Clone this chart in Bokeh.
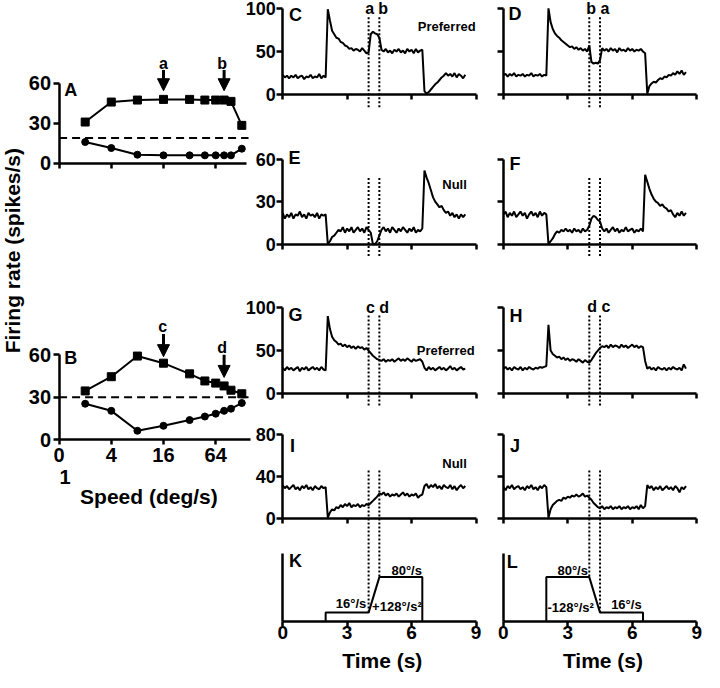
import math
from bokeh.plotting import figure
from bokeh.models import (Range1d, LinearAxis, LogAxis, LogScale, FixedTicker,
                          CustomJSTickFormatter, Label, Arrow, NormalHead)
from bokeh.embed import file_html
from bokeh.resources import INLINE

FONT = "Liberation Sans"

# ---------------------------------------------------------------- data
speed = [2, 4, 8, 16, 32, 48, 64, 80, 96, 128]
a_pref = [31, 46, 47.5, 48, 48, 47.5, 47.5, 47.5, 46.5, 28.5]
a_null = [16, 11.5, 6.5, 6, 6, 6, 6, 6, 6, 11]
a_spont = 19
b_pref = [34.5, 44.5, 59, 54, 46.5, 41.5, 40, 38, 35, 32.5]
b_null = [25.5, 20.5, 6.5, 10, 14, 16.5, 18.5, 20.5, 22, 26]
b_spont = 30
speed_ticks = [1, 4, 16, 64]
speed_tick_labels = ["0", "4", "16", "64"]
step_speeds = [16, 80]

time_s = [0.0, 0.1, 0.2, 0.3, 0.4, 0.5, 0.6, 0.7, 0.8, 0.9, 1.0, 1.1, 1.2, 1.3, 1.4,
          1.5, 1.6, 1.7, 1.8, 1.9, 2.0, 2.1, 2.2, 2.3, 2.4, 2.5, 2.6, 2.7, 2.8, 2.9,
          3.0, 3.1, 3.2, 3.3, 3.4, 3.5, 3.6, 3.7, 3.8, 3.9, 4.0, 4.1, 4.2, 4.3, 4.4,
          4.5, 4.6, 4.7, 4.8, 4.9, 5.0, 5.1, 5.2, 5.3, 5.4, 5.5, 5.6, 5.7, 5.8, 5.9,
          6.0, 6.1, 6.2, 6.3, 6.4, 6.5, 6.6, 6.7, 6.8, 6.9, 7.0, 7.1, 7.2, 7.3, 7.4,
          7.5, 7.6, 7.7, 7.8, 7.9, 8.0, 8.1, 8.2, 8.3, 8.4, 8.5]

C_rate = [23, 20, 22, 19, 22, 20, 23, 19, 21, 22, 18, 21, 20, 23, 19, 21, 20, 24, 19, 22, 20,
          99, 86, 74, 70, 66, 65, 61, 60, 57, 56, 53, 54, 51, 53, 52, 50, 54, 51, 48, 49,
          70, 73, 71, 70, 66, 52, 50, 53, 49, 51, 48, 52, 50, 53, 49, 51, 48, 53, 50, 52, 48, 53, 49, 51, 52,
          4, 1, 3, 6, 9, 12, 14, 17, 20, 22, 25, 22, 24, 21, 25, 20, 24, 22, 19, 23]
D_rate = [23, 24, 21, 24, 22, 25, 21, 23, 22, 24, 21, 23, 22, 25, 21, 23, 22, 24, 21, 23, 22,
          100, 84, 76, 71, 68, 66, 63, 61, 59, 57, 55, 56, 53, 55, 52, 54, 51, 53, 50, 57,
          38, 36, 37, 36, 40, 54, 51, 53, 50, 54, 51, 53, 49, 54, 51, 52, 50, 54, 51, 53, 50, 52, 51, 53, 50,
          48, 1, 10, 13, 15, 14, 17, 19, 18, 21, 20, 23, 22, 25, 23, 27, 24, 28, 23, 26]
E_rate = [22, 18, 21, 19, 22, 18, 21, 20, 23, 19, 21, 18, 22, 20, 21, 19, 22, 18, 21, 20, 21,
          0, 2, 5, 6, 8, 10, 9, 12, 8, 11, 9, 12, 8, 10, 12, 9, 11, 8, 12, 10,
          8, 0, 0, 2, 6, 10, 12, 9, 11, 8, 12, 10, 8, 11, 9, 12, 10, 8, 11, 9, 12, 8, 10, 9, 11,
          52, 47, 43, 38, 33, 30, 28, 26, 27, 24, 22, 23, 20, 22, 19, 21, 18, 21, 19, 21]
F_rate = [21, 23, 19, 22, 20, 23, 19, 21, 23, 20, 22, 18, 21, 23, 20, 22, 19, 23, 20, 22, 21,
          0, 2, 4, 7, 9, 8, 10, 9, 11, 9, 10, 8, 11, 9, 10, 8, 11, 9, 10, 13,
          18, 20, 19, 17, 16, 11, 9, 11, 8, 10, 12, 9, 11, 8, 10, 9, 12, 9, 10, 11, 8, 10, 9, 11, 9,
          49, 44, 39, 35, 32, 30, 29, 27, 28, 26, 25, 23, 24, 21, 19, 22, 20, 23, 20, 22]
G_rate = [30, 27, 31, 28, 30, 27, 29, 31, 26, 30, 28, 31, 27, 29, 31, 28, 30, 27, 31, 28, 27,
          90, 75, 66, 62, 60, 57, 58, 55, 57, 54, 56, 53, 55, 52, 55, 53, 54, 51, 53, 50,
          47, 44, 42, 40, 39, 38, 40, 37, 39, 38, 40, 37, 39, 41, 38, 40, 38, 41, 39, 37, 40, 38, 39, 40, 37,
          30, 27, 31, 28, 30, 27, 29, 31, 28, 30, 27, 29, 32, 28, 30, 27, 29, 31, 28, 29]
H_rate = [29, 31, 28, 30, 27, 31, 29, 28, 31, 27, 30, 28, 31, 29, 28, 30, 29, 31, 30, 31, 32,
          80, 50, 46, 44, 42, 43, 40, 42, 39, 41, 38, 40, 39, 37, 40, 38, 36, 39, 37, 36,
          39, 43, 47, 50, 53, 55, 54, 56, 53, 57, 54, 56, 55, 53, 57, 54, 56, 53, 55, 57, 54, 56, 53, 55, 54,
          38, 29, 31, 28, 30, 27, 31, 29, 28, 30, 27, 30, 28, 31, 29, 28, 30, 27, 34, 29]
I_rate = [32, 29, 31, 28, 30, 32, 28, 30, 27, 31, 29, 32, 28, 30, 27, 31, 29, 28, 31, 29, 30,
          1, 6, 9, 8, 11, 10, 13, 11, 14, 12, 15, 11, 13, 12, 14, 11, 13, 12, 14, 13,
          15, 17, 19, 21, 24, 23, 25, 22, 24, 21, 23, 22, 24, 21, 23, 25, 22, 24, 21, 23, 22, 24, 20, 22, 23,
          31, 33, 29, 32, 30, 33, 29, 31, 28, 32, 30, 29, 32, 28, 31, 27, 30, 32, 29, 31]
J_rate = [30, 27, 31, 29, 32, 28, 30, 31, 28, 30, 27, 31, 29, 32, 28, 30, 27, 31, 29, 32, 30,
          1, 9, 13, 15, 17, 18, 17, 20, 19, 21, 20, 22, 21, 23, 21, 22, 24, 21, 22, 20,
          18, 15, 13, 11, 10, 12, 9, 11, 10, 12, 9, 11, 10, 12, 9, 11, 10, 12, 9, 11, 10, 12, 9, 13, 10,
          12, 32, 29, 31, 27, 30, 28, 31, 27, 29, 31, 28, 30, 27, 31, 29, 25, 30, 28, 31]

profile_t = [2.0, 2.0, 4.0, 4.5, 6.5, 6.5]
K_speed = [0, 16, 16, 80, 80, 0]
L_speed = [0, 80, 80, 16, 16, 0]
change_times = [4.0, 4.5]
time_ticks = [0, 3, 6, 9]

# ---------------------------------------------------------------- layout (reference pixels)
W, H = 704, 672
REF_X = (1, 722)   # reference pixels covered by the frame, left -> right
REF_Y = (686, 1)   # bottom -> top


def rng(v0, v1, p0, p1, ref):
    k = (v1 - v0) / (p1 - p0)
    return Range1d(start=v0 + (ref[0] - p0) * k, end=v0 + (ref[1] - p0) * k)


def log_rng(v0, v1, p0, p1, ref):
    l0, l1 = math.log2(v0), math.log2(v1)
    k = (l1 - l0) / (p1 - p0)
    return Range1d(start=2 ** (l0 + (ref[0] - p0) * k), end=2 ** (l0 + (ref[1] - p0) * k))


COLS = {"tL": (290, 488), "tR": (516, 714)}
ROWS = {"rCD": (97, 9, 100, [0, 50, 100]),
        "rEF": (249.3, 162.7, 60, [0, 30, 60]),
        "rGH": (401.7, 314, 100, [0, 50, 100]),
        "rIJ": (529.3, 443.3, 80, [0, 40, 80]),
        "rKL": (634, 565, 122, [])}


def row_val(row, px):
    y0, ytop, vmax, _ = ROWS[row]
    return (y0 - px) / (y0 - ytop) * vmax


x_ranges = {k: rng(0, 9, a, b, REF_X) for k, (a, b) in COLS.items()}
x_ranges["spd"] = log_rng(1, 64, 61, 221.4, REF_X)
y_ranges = {k: rng(0, v[2], v[0], v[1], REF_Y) for k, v in ROWS.items()}
y_ranges["yA"] = rng(0, 60, 167, 85.5, REF_Y)
y_ranges["yB"] = rng(0, 60, 449, 362, REF_Y)

p = figure(width=W, height=H, output_backend="svg", toolbar_location=None,
           x_range=Range1d(*REF_X), y_range=Range1d(*REF_Y),
           x_axis_location=None, y_axis_location=None, min_border=0,
           outline_line_color=None, extra_x_ranges=x_ranges, extra_y_ranges=y_ranges,
           extra_x_scales={"spd": LogScale()})
p.grid.grid_line_color = None
p.background_fill_color = "white"
p.border_fill_color = "white"


def style_axis(ax, size, show, standoff, tick=6):
    ax.axis_line_width = 2.5
    ax.axis_line_color = "black"
    ax.major_tick_line_width = 2.5
    ax.major_tick_line_color = "black"
    ax.major_tick_in = 0
    ax.major_tick_out = tick
    ax.minor_tick_line_color = None
    ax.major_label_text_font = FONT
    ax.major_label_text_font_style = "bold"
    ax.major_label_text_font_size = f"{size}px"
    ax.major_label_text_color = "black" if show else None
    ax.major_label_standoff = standoff


def label(x, y, text, size, angle=0.0, xr="default", yr="default"):
    p.add_layout(Label(x=x, y=y, text=text, x_range_name=xr, y_range_name=yr,
                       text_font=FONT, text_font_style="bold", text_font_size=f"{size}px",
                       text_align="center", text_baseline="middle", angle=angle,
                       text_color="black"))


# ---------------------------------------------------------------- time-course panels
panels = [("C", "tL", "rCD", C_rate), ("D", "tR", "rCD", D_rate),
          ("E", "tL", "rEF", E_rate), ("F", "tR", "rEF", F_rate),
          ("G", "tL", "rGH", G_rate), ("H", "tR", "rGH", H_rate),
          ("I", "tL", "rIJ", I_rate), ("J", "tR", "rIJ", J_rate)]

for name, xr, yr, rate in panels:
    p.line(time_s, rate, x_range_name=xr, y_range_name=yr, line_width=2, color="black")

for xr, yr, show in [("tL", "rCD", True), ("tR", "rCD", False), ("tL", "rEF", True),
                     ("tR", "rEF", False), ("tL", "rGH", True), ("tR", "rGH", False),
                     ("tL", "rIJ", True), ("tR", "rIJ", False), ("tL", "rKL", False),
                     ("tR", "rKL", False)]:
    vmax, yticks = ROWS[yr][2], ROWS[yr][3]
    xa = LinearAxis(x_range_name=xr, y_range_name=yr, fixed_location=0, bounds=(0, 9),
                    ticker=FixedTicker(ticks=time_ticks))
    style_axis(xa, 19, yr == "rKL", 0, tick=5)
    p.add_layout(xa, "below")
    ya = LinearAxis(x_range_name=xr, y_range_name=yr, fixed_location=0, bounds=(0, vmax),
                    ticker=FixedTicker(ticks=yticks))
    style_axis(ya, 18, show, 1, tick=6)
    p.add_layout(ya, "left")

# speed profiles
p.line(profile_t, K_speed, x_range_name="tL", y_range_name="rKL", line_width=2, color="black")
p.line(profile_t, L_speed, x_range_name="tR", y_range_name="rKL", line_width=2, color="black")

# dotted markers of the speed change
for xr in ("tL", "tR"):
    for top, bot in [(18, 110), (182, 262), (322, 415)]:
        p.segment(x0=change_times, y0=[top, top], x1=change_times, y1=[bot, bot],
                  x_range_name=xr, line_dash="2 2", line_width=2, color="black")
k_top = row_val("rKL", 480)
p.segment(x0=change_times, y0=[k_top, k_top], x1=change_times, y1=[K_speed[2], K_speed[3]],
          x_range_name="tL", y_range_name="rKL", line_dash="2 2", line_width=2, color="black")
p.segment(x0=change_times, y0=[k_top, k_top], x1=change_times, y1=[L_speed[2], L_speed[3]],
          x_range_name="tR", y_range_name="rKL", line_dash="2 2", line_width=2, color="black")

# ---------------------------------------------------------------- tuning panels A, B
spd_fmt = CustomJSTickFormatter(
    args=dict(spd_ticks=speed_ticks, spd_labels=speed_tick_labels),
    code="const i = spd_ticks.indexOf(tick); return i >= 0 ? spd_labels[i] : '';")

for yr, pref, null, spont, xmax in [("yA", a_pref, a_null, a_spont, 146),
                                    ("yB", b_pref, b_null, b_spont, 160)]:
    p.segment(x0=[1], y0=[spont], x1=[153], y1=[spont], x_range_name="spd", y_range_name=yr,
              line_dash="8 5", line_width=2, color="black")
    p.line(speed, pref, x_range_name="spd", y_range_name=yr, line_width=2, color="black")
    p.scatter(speed, pref, marker="square", size=8, color="black",
              x_range_name="spd", y_range_name=yr)
    p.line(speed, null, x_range_name="spd", y_range_name=yr, line_width=2, color="black")
    p.scatter(speed, null, marker="circle", size=7, color="black",
              x_range_name="spd", y_range_name=yr)
    xa = LogAxis(x_range_name="spd", y_range_name=yr, fixed_location=0, bounds=(1, xmax),
                 ticker=FixedTicker(ticks=speed_ticks), formatter=spd_fmt)
    style_axis(xa, 20, yr == "yB", 3, tick=5)
    p.add_layout(xa, "below")
    ya = LinearAxis(x_range_name="spd", y_range_name=yr, fixed_location=1, bounds=(0, 60),
                    ticker=FixedTicker(ticks=[0, 30, 60]))
    style_axis(ya, 20, True, 2, tick=6)
    p.add_layout(ya, "left")

arrows = [("yA", step_speeds[0], 70, 54.5), ("yA", step_speeds[1], 70, 54.5),
          ("yB", step_speeds[0], 74.5, 58.6), ("yB", step_speeds[1], 60, 44)]
for yr, sx, ys, ye in arrows:
    p.add_layout(Arrow(end=NormalHead(size=12, fill_color="black", line_color="black"),
                       x_start=sx, y_start=ys, x_end=sx, y_end=ye, line_width=3,
                       line_color="black", x_range_name="spd", y_range_name=yr))

# ---------------------------------------------------------------- texts (reference pixels)
for t, x, y in [("A", 73, 92), ("B", 73, 365), ("C", 303, 16), ("D", 528, 15),
                ("E", 302, 162), ("F", 528, 168), ("G", 303, 322), ("H", 529, 323),
                ("I", 300, 455), ("J", 528, 455), ("K", 303, 572), ("L", 525, 573)]:
    label(x, y, t, 18)

for t, x, y in [("a", 168, 65), ("b", 228, 65), ("c", 167, 333), ("d", 228, 355),
                ("a", 379, 9), ("b", 393, 9), ("b", 606, 9), ("a", 620, 9),
                ("c", 380, 314), ("d", 394, 314), ("d", 607, 313), ("c", 621, 313)]:
    label(x, y, t, 16)

for t, x, y in [("Preferred", 458, 28), ("Null", 466, 189), ("Preferred", 457, 358),
                ("Null", 466, 473)]:
    label(x, y, t, 13)

for t, x, y in [("16°/s", 360, 616), ("80°/s", 417, 582), ("+128°/s²", 407, 619),
                ("80°/s", 587, 582), ("-128°/s²", 585, 620), ("16°/s", 642, 617)]:
    label(x, y, t, 13)

label(392, 674, "Time (s)", 21)
label(618, 674, "Time (s)", 21)
label(67, 487, "1", 20)
label(153, 507, "Speed (deg/s)", 21)
label(13, 256, "Firing rate (spikes/s)", 21, angle=math.pi / 2)

open("out.html", "w").write(file_html(p, INLINE))
